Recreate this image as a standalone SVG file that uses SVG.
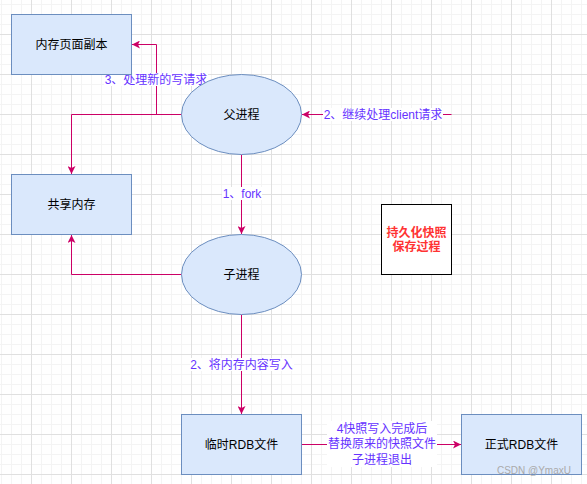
<svg xmlns="http://www.w3.org/2000/svg" width="587" height="484" viewBox="0 0 587 484">
<style>
text{font-family:"Liberation Sans","Noto Sans CJK SC",sans-serif;font-size:12px;text-anchor:middle}
.node{fill:#dae8fc;stroke:#6c8ebf;stroke-width:1}
.nt{fill:#000}
.edge{fill:none;stroke:#cc0066;stroke-width:1}
.lbl{fill:#6633ff}
.lbg{fill:#fff}
.legend{fill:#fff;stroke:#000;stroke-width:1}
.lt{fill:#ff3333;font-weight:bold}
.wm{fill:#aaaaaa;font-size:10px;text-anchor:end}
</style>
<defs>
<pattern id="grid" width="40" height="40" patternUnits="userSpaceOnUse" x="31" y="34">
<path d="M10.5,0V40M20.5,0V40M30.5,0V40M0,10.5H40M0,20.5H40M0,30.5H40" stroke="#f4f4f4" stroke-width="1" fill="none"/>
<path d="M0.5,0V40M0,0.5H40" stroke="#e0e0e0" stroke-width="1" fill="none"/>
</pattern>
<marker id="arr" viewBox="0 0 8 8" refX="8" refY="4" markerWidth="8" markerHeight="8" markerUnits="userSpaceOnUse" orient="auto">
<path d="M0,0L8,4L0,8L2,4z" fill="#cc0066"/>
</marker>
</defs>
<rect width="587" height="484" fill="#fff"/>
<rect width="587" height="484" fill="url(#grid)"/>

<g id="connectors">
<path class="edge" d="M181.5,114.5H156.5V44.5H132" marker-end="url(#arr)"/>
<path class="edge" d="M181.5,114.5H71.5V174" marker-end="url(#arr)"/>
<path class="edge" d="M451.5,114.5H302" marker-end="url(#arr)"/>
<path class="edge" d="M241.5,154.5V234" marker-end="url(#arr)"/>
<path class="edge" d="M181.5,274.5H71.5V235" marker-end="url(#arr)"/>
<path class="edge" d="M241.5,314.5V414" marker-end="url(#arr)"/>
<path class="edge" d="M301.5,444.5H461" marker-end="url(#arr)"/>
<g id="edge-labels">
<rect class="lbg" x="104" y="73" width="104" height="13"/>
<text class="lbl" x="156" y="83.5">3、处理新的写请求</text>
<rect class="lbg" x="323" y="108" width="120" height="13"/>
<text class="lbl" x="383" y="118.5">2、继续处理client请求</text>
<rect class="lbg" x="222" y="187" width="40" height="13"/>
<text class="lbl" x="242" y="197.5">1、fork</text>
<rect class="lbg" x="190" y="358" width="104" height="13"/>
<text class="lbl" x="241.5" y="368.5">2、将内存内容写入</text>
<rect class="lbg" x="327" y="421" width="110" height="46"/>
<text class="lbl" x="382" y="432.5">4快照写入完成后</text>
<text class="lbl" x="382" y="448">替换原来的快照文件</text>
<text class="lbl" x="382" y="463.5">子进程退出</text>
</g>
</g>

<g id="mem-copy">
<rect class="node" x="11.5" y="14.5" width="120" height="60"/>
<text class="nt" x="71.5" y="48.5">内存页面副本</text>
</g>
<g id="parent">
<ellipse class="node" cx="241.5" cy="114.5" rx="60" ry="40"/>
<text class="nt" x="241.5" y="118.5">父进程</text>
</g>
<g id="shared-mem">
<rect class="node" x="11.5" y="174.5" width="120" height="60"/>
<text class="nt" x="71.5" y="208.5">共享内存</text>
</g>
<g id="child">
<ellipse class="node" cx="241.5" cy="274.5" rx="60" ry="40"/>
<text class="nt" x="241.5" y="278.5">子进程</text>
</g>
<g id="temp-rdb">
<rect class="node" x="181.5" y="414.5" width="120" height="60"/>
<text class="nt" x="241.5" y="448.5">临时RDB文件</text>
</g>
<g id="final-rdb">
<rect class="node" x="461.5" y="414.5" width="120" height="60"/>
<text class="nt" x="521.5" y="448.5">正式RDB文件</text>
</g>
<g id="legend">
<rect class="legend" x="381.5" y="204.5" width="70" height="70"/>
<text class="lt" x="416.5" y="237">持久化快照</text>
<text class="lt" x="416.5" y="251">保存过程</text>
</g>
<text class="wm" x="571" y="474">CSDN @YmaxU</text>
</svg>
